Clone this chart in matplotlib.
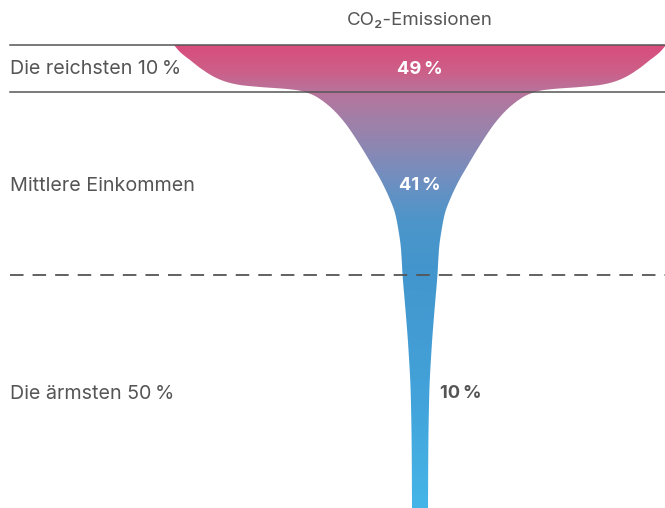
import numpy as np
import matplotlib
matplotlib.use("Agg")
import matplotlib.pyplot as plt
from matplotlib.patches import Polygon
from matplotlib.colors import LinearSegmentedColormap

# ---- data ----
groups = ["Die reichsten 10\u2009%", "Mittlere Einkommen", "Die ärmsten 50\u2009%"]
shares = [49, 41, 10]
title = "CO\u2082-Emissionen"

# glass profile (vertical position in px, half-width in px)
profile_y = [45, 52, 60, 70, 80, 85, 87, 89, 90.5, 92, 96, 100, 105, 111, 120, 127, 147,
             167, 180, 197, 213, 230, 247, 277, 310, 350, 393, 450, 508]
profile_hw = [246, 240, 230, 217, 199, 180, 160, 133, 121, 115, 105, 98.6, 92.1, 85.5, 77.4, 72, 58.8,
              46.8, 39.3, 31.1, 25, 21.6, 19.2, 17.3, 14.5, 11.5, 9.3, 8.3, 8]

grad_pos = [45, 70, 90, 120, 150, 185, 220, 270, 400, 508]
grad_col = ["#d94d7d", "#cc5f88", "#b8739b", "#a080a8", "#8a88b4", "#6a90c2",
            "#4d95ca", "#4296cd", "#42a3da", "#45b5e8"]


def pchip(x, y, xn):
    x = np.asarray(x, float)
    y = np.asarray(y, float)
    h = np.diff(x)
    dl = np.diff(y) / h
    d = np.zeros_like(y)
    for k in range(1, len(x) - 1):
        if dl[k - 1] * dl[k] <= 0:
            d[k] = 0.0
        else:
            w1 = 2 * h[k] + h[k - 1]
            w2 = h[k] + 2 * h[k - 1]
            d[k] = (w1 + w2) / (w1 / dl[k - 1] + w2 / dl[k])
    d[0] = dl[0]
    d[-1] = dl[-1]
    idx = np.clip(np.searchsorted(x, xn) - 1, 0, len(x) - 2)
    t = (xn - x[idx]) / h[idx]
    h00 = 2 * t ** 3 - 3 * t ** 2 + 1
    h10 = t ** 3 - 2 * t ** 2 + t
    h01 = -2 * t ** 3 + 3 * t ** 2
    h11 = t ** 3 - t ** 2
    return h00 * y[idx] + h10 * h[idx] * d[idx] + h01 * y[idx + 1] + h11 * h[idx] * d[idx + 1]


W, H = 665, 508
fig = plt.figure(figsize=(W / 100, H / 100), dpi=100)
ax = fig.add_axes([0, 0, 1, 1])
ax.axis("off")

cx = 420
sy = np.linspace(profile_y[0], profile_y[-1], 1500)
shw = pchip(profile_y, profile_hw, sy)
xs = np.concatenate([cx - shw, (cx + shw)[::-1]])
ys = np.concatenate([sy, sy[::-1]])
poly = Polygon(np.column_stack([xs, ys]), closed=True, facecolor="none", edgecolor="none")
ax.add_patch(poly)

gp = np.array(grad_pos, float)
stops = (gp - gp[0]) / (gp[-1] - gp[0])
cmap = LinearSegmentedColormap.from_list("glass", list(zip(stops, grad_col)))
grad = np.linspace(0, 1, 500).reshape(-1, 1)
hwmax = max(profile_hw)
im = ax.imshow(grad, cmap=cmap, aspect="auto",
               extent=[cx - hwmax - 2, cx + hwmax + 2, gp[-1], gp[0]],
               interpolation="bilinear", zorder=1)
im.set_clip_path(poly)
ax.set_xlim(0, W)
ax.set_ylim(H, 0)

line_c = "#555555"
ax.plot([10, W], [44.5, 44.5], color=line_c, lw=1.1, zorder=3)
ax.plot([10, W], [92, 92], color=line_c, lw=1.1, zorder=3)
ax.plot([10, W], [275, 275], color=line_c, lw=1.3, dashes=(7.5, 5), zorder=3)

fam = ["Inter", "DejaVu Sans"]
txt_c = "#555555"
fs = 14.2
label_y = [69, 186, 394]
for g, yv in zip(groups, label_y):
    ax.text(10, yv, g, fontsize=fs, color=txt_c, family=fam, va="center", ha="left")

ax.text(cx, 21, title, fontsize=13.5, color=txt_c, family=fam, va="center", ha="center")

pfs = 13.2
ax.text(cx, 69, f"{shares[0]}\u2009%", fontsize=pfs, color="white", family=fam,
        fontweight="bold", va="center", ha="center", zorder=4)
ax.text(cx, 185, f"{shares[1]}\u2009%", fontsize=pfs, color="white", family=fam,
        fontweight="bold", va="center", ha="center", zorder=4)
ax.text(440, 394, f"{shares[2]}\u2009%", fontsize=pfs, color=txt_c, family=fam,
        fontweight="bold", va="center", ha="left", zorder=4)

fig.savefig("out.png", dpi=100)
